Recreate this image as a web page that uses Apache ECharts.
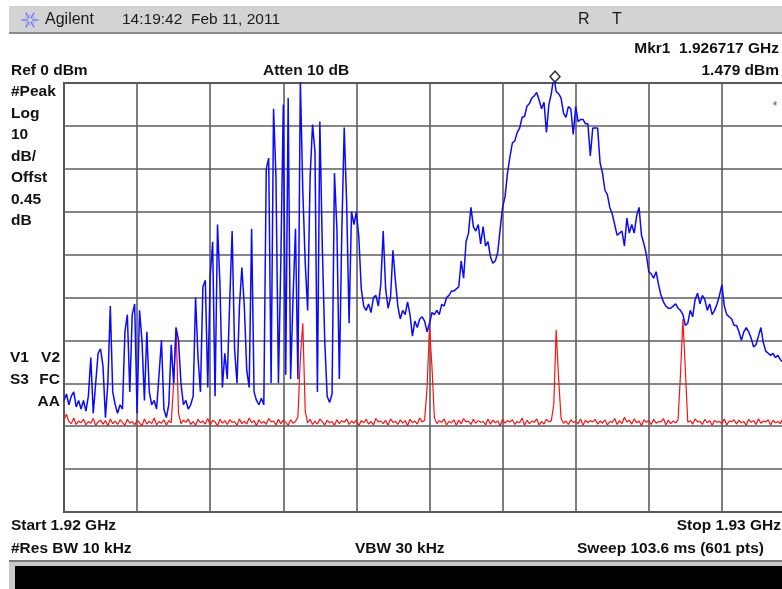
<!DOCTYPE html>
<html>
<head>
<meta charset="utf-8">
<script src="https://cdn.jsdelivr.net/npm/echarts@6/dist/echarts.min.js"></script>
<style>
  html, body { margin: 0; padding: 0; background: #ffffff; overflow: hidden; }
  #chart { width: 800px; height: 589px; }
</style>
</head>
<body>
<div id="chart"></div>
<script>
// Sweep settings (MHz) and display scale (dBm)
const startMHz = 1920;
const stopMHz = 1930;
const refLevel = 0;
const dbPerDiv = 10;
const sweepPoints = 301;

// Trace 1 (blue): max-hold of the signal, dBm
const blueTrace = [
  -74,-72.5,-75,-73,-72,-75.5,-74,-76,-74,-76.5,
  -73,-64,-77,-70,-63,-62,-66,-78,-70,-52,
  -72,-75,-77,-75,-76,-58,-54,-72,-54,-51.5,
  -77,-53,-60,-74,-58,-72,-75,-74,-76,-68,
  -60,-76,-78,-75,-61,-70,-57,-60,-70,-75,
  -74,-76,-75,-73,-50,-64,-72,-47.5,-46,-71,
  -45,-37,-73,-33,-47,-71,-63,-69,-51,-34.5,
  -62,-70,-52,-43,-52,-67,-71,-34,-72,-74,
  -75,-73.5,-75,-20,-17.5,-70,-6,-22,-70,-41,
  -5,-68,-3.5,-69,-50,-34,-69,0.5,-25,-42,
  -53,-22,-9.7,-16,-72,-9,-38,-60,-73,-74.5,
  -72.5,-21,-34,-69,-35,-10.4,-28,-56,-30,-33,
  -30,-36,-48,-52,-53,-51.5,-53.5,-50,-49.5,-52,
  -47,-34.5,-48,-52.5,-50,-39,-46,-52,-55,-53,
  -54,-51,-54,-59,-55.5,-57,-55,-54.5,-55.5,-58,
  -56,-53.5,-54,-53,-54,-51.6,-52,-50,-49.5,-48.5,
  -48.5,-48,-47.5,-41.5,-45.5,-37,-35,-29,-33.5,-34.5,
  -33,-37.5,-33.5,-38,-37,-40.5,-42,-41.5,-39.5,-34,
  -29,-26.5,-21,-17.2,-14,-13.5,-11.5,-10.5,-8,-7.8,
  -5.4,-4.8,-3.5,-3,-2.2,-4,-6,-4.5,-11.5,-5,
  -2.5,1.479,-2,-2.5,-3.5,-7,-8,-5.5,-6,-12,
  -5.5,-9,-8.5,-8.5,-9.5,-9.5,-17,-10.5,-10.5,-10.5,
  -18.6,-21,-25,-26,-29,-30.5,-33,-35.5,-35,-34.5,
  -38,-31.5,-35,-33,-35,-31,-29,-35.5,-37.5,-40,
  -44,-44.5,-45.5,-44,-47,-49.5,-51,-52,-52.5,-52.5,
  -52,-51.5,-52.5,-53,-54,-56.5,-56,-53,-54.5,-50.5,
  -49,-51.5,-49.5,-50.5,-53,-51.5,-54,-53,-51.5,-49.5,
  -47,-52,-54,-54.5,-55,-56.5,-56.5,-58,-60,-58,
  -57,-58,-59.5,-61.5,-61,-59,-57,-60.5,-62.5,-63,
  -63.5,-63,-64,-63.5,-64.5,-65,-64.5,-65.5,-65,-66,
  -65.5
];

// Trace 2 (red): noise floor with the carrier lines, dBm
const redTrace = [
  -78.5,-77.2,-78.9,-79.4,-78.1,-79.6,-78.8,-79.2,-78.4,-79.7,
  -78.9,-79.3,-78.2,-79.8,-79.0,-78.6,-79.5,-78.7,-79.9,-78.3,
  -79.4,-78.8,-79.6,-78.5,-79.1,-79.8,-78.4,-79.3,-78.9,-79.7,
  -78.6,-79.2,-79.9,-78.3,-79.5,-78.8,-79.4,-78.1,-79.7,-78.9,
  -79.3,-78.5,-79.8,-78.7,-79.2,-70.0,-57.0,-77.0,-79.4,-78.6,
  -79.1,-78.3,-79.6,-78.9,-79.8,-78.4,-79.2,-78.8,-79.5,-78.2,
  -79.7,-78.6,-79.0,-79.9,-78.4,-79.3,-78.7,-79.6,-78.5,-79.1,
  -78.9,-79.8,-78.3,-79.4,-78.8,-79.5,-78.1,-79.2,-78.7,-79.9,
  -78.5,-79.3,-78.9,-79.6,-78.2,-79.0,-78.8,-79.7,-78.4,-79.4,
  -78.6,-79.1,-79.8,-78.5,-79.3,-78.9,-77.8,-64.0,-56.0,-76.5,
  -79.2,-78.4,-79.6,-78.8,-79.5,-78.3,-79.0,-79.7,-78.6,-79.2,
  -78.9,-79.8,-78.5,-79.4,-78.7,-79.1,-78.3,-79.6,-78.8,-79.3,
  -78.5,-79.9,-78.7,-79.2,-78.4,-79.5,-78.9,-79.7,-78.2,-79.0,
  -78.8,-79.4,-78.6,-79.8,-78.3,-79.1,-78.9,-79.6,-78.5,-79.3,
  -78.7,-79.9,-78.4,-79.2,-78.8,-79.5,-78.1,-79.0,-78.6,-71.0,
  -57.0,-66.0,-78.0,-79.4,-78.7,-79.1,-78.3,-79.7,-78.9,-79.2,
  -78.5,-79.8,-78.6,-79.4,-78.2,-79.0,-78.8,-79.6,-78.4,-79.3,
  -78.7,-79.1,-78.9,-79.7,-78.3,-79.5,-78.6,-79.2,-78.8,-79.9,
  -78.4,-79.3,-78.7,-79.0,-78.5,-79.6,-78.9,-79.2,-78.1,-79.8,
  -78.6,-79.4,-78.8,-79.1,-78.3,-79.7,-78.9,-79.5,-78.4,-79.0,
  -78.7,-75.0,-57.5,-69.0,-78.2,-79.3,-78.8,-79.6,-78.5,-79.1,
  -78.9,-79.4,-78.3,-79.8,-78.6,-79.2,-78.7,-79.0,-78.4,-79.5,
  -78.8,-79.3,-78.5,-79.7,-78.9,-79.1,-78.2,-79.6,-78.7,-79.4,
  -77.9,-79.0,-78.6,-79.5,-78.3,-79.2,-78.8,-79.9,-78.5,-79.1,
  -78.7,-79.6,-78.4,-79.3,-78.9,-79.0,-78.2,-79.7,-78.6,-79.4,
  -78.8,-79.2,-78.5,-68.0,-55.0,-67.0,-79.1,-78.7,-79.5,-78.3,
  -79.0,-78.9,-79.6,-78.4,-79.2,-78.7,-79.8,-78.6,-79.1,-78.9,
  -79.4,-78.3,-79.7,-78.8,-79.0,-78.5,-79.5,-78.6,-79.2,-78.9,
  -79.8,-78.4,-79.1,-78.7,-79.6,-78.3,-79.3,-78.8,-79.0,-78.5,
  -79.7,-78.6,-79.2,-78.9,-79.4,-78.2,-79.1,-78.7,-79.5,-78.8,
  -79.3
];

// Marker 1 readout
const markerFreqGHz = 1.926717;
const markerLevel = 1.479;

// Annotation strings
const headerTime = '14:19:42  Feb 11, 2011';
const leftStatus = ['#Peak', 'Log', '10', 'dB/', 'Offst', '0.45', 'dB'];

const step = (stopMHz - startMHz) / (sweepPoints - 1);
const pairs = arr => arr.map((v, i) => [startMHz + i * step, v]);

const FONT = '"Liberation Sans", Arial, "DejaVu Sans", sans-serif';
const bold = s => 'bold ' + s + 'px ' + FONT;
const txt = (text, x, y, opt) => Object.assign({
  type: 'text', silent: true, z: 100,
  style: Object.assign({ text, x, y, fill: '#111', font: bold(15.5),
    textAlign: 'left', textVerticalAlign: 'middle' }, opt || {})
});

const graphics = [];
// title strip
graphics.push({ type: 'rect', silent: true, z: 1, shape: { x: 9, y: 6, width: 791, height: 27 },
  style: { fill: '#d3d3d3' } });
graphics.push({ type: 'rect', silent: true, z: 2, shape: { x: 9, y: 32, width: 791, height: 2 },
  style: { fill: '#8a8a8a' } });
// Agilent spark
for (let k = 0; k < 12; k++) {
  const a = k * Math.PI / 6;
  const r1 = 2, r2 = k % 2 ? 6 : 8.5;
  graphics.push({ type: 'line', silent: true, z: 3,
    shape: { x1: 30 + r1 * Math.cos(a), y1: 20 + r1 * Math.sin(a), x2: 30 + r2 * Math.cos(a), y2: 20 + r2 * Math.sin(a) },
    style: { stroke: k % 2 ? '#a9a9ff' : '#6b6bf5', lineWidth: 1.2 } });
}
graphics.push(txt('Agilent', 45, 20, { font: '16px ' + FONT, fill: '#1a1a1a' }));
graphics.push(txt(headerTime, 122, 20, { font: '15.5px ' + FONT, fill: '#1a1a1a' }));
graphics.push(txt('R', 578, 20, { font: '16px ' + FONT, fill: '#1a1a1a' }));
graphics.push(txt('T', 612, 20, { font: '16px ' + FONT, fill: '#1a1a1a' }));

// settings line
graphics.push(txt('Mkr1  ' + markerFreqGHz.toFixed(6) + ' GHz', 779, 49, { textAlign: 'right' }));
graphics.push(txt('Ref 0 dBm', 11, 71));
graphics.push(txt('Atten 10 dB', 263, 71));
graphics.push(txt(markerLevel.toFixed(3) + ' dBm', 779, 71, { textAlign: 'right' }));
leftStatus.forEach((s, k) => graphics.push(txt(s, 11, 92 + k * 21.5)));
graphics.push(txt('V1', 10, 358));
graphics.push(txt('V2', 60, 358, { textAlign: 'right' }));
graphics.push(txt('S3', 10, 380));
graphics.push(txt('FC', 60, 380, { textAlign: 'right' }));
graphics.push(txt('AA', 60, 402, { textAlign: 'right' }));
graphics.push(txt('*', 775, 107, { font: '12px ' + FONT, fill: '#555', textAlign: 'center' }));

// footer
graphics.push(txt('Start 1.92 GHz', 11, 526));
graphics.push(txt('Stop 1.93 GHz', 781, 526, { textAlign: 'right' }));
graphics.push(txt('#Res BW 10 kHz', 11, 549));
graphics.push(txt('VBW 30 kHz', 355, 549));
graphics.push(txt('Sweep 103.6 ms (601 pts)', 577, 549));
graphics.push({ type: 'rect', silent: true, z: 1, shape: { x: 9, y: 560, width: 791, height: 29 },
  style: { fill: '#c9c9c9' } });
graphics.push({ type: 'rect', silent: true, z: 2, shape: { x: 9, y: 560, width: 791, height: 2 },
  style: { fill: '#7a7a7a' } });
graphics.push({ type: 'rect', silent: true, z: 3, shape: { x: 15, y: 566, width: 785, height: 23 },
  style: { fill: '#000000' } });

const chart = echarts.init(document.getElementById('chart'), null, { renderer: 'canvas' });
chart.setOption({
  animation: false,
  backgroundColor: '#ffffff',
  grid: { left: 64, top: 83, width: 731, height: 429, show: true,
    borderColor: '#484848', borderWidth: 2, backgroundColor: 'transparent' },
  xAxis: {
    type: 'value', min: startMHz, max: stopMHz, interval: 1,
    axisLine: { show: false }, axisTick: { show: false }, axisLabel: { show: false },
    splitLine: { show: true, lineStyle: { color: '#5e5e5e', width: 1.6 } }
  },
  yAxis: {
    type: 'value', min: refLevel - 10 * dbPerDiv, max: refLevel, interval: dbPerDiv,
    axisLine: { show: false }, axisTick: { show: false }, axisLabel: { show: false },
    splitLine: { show: true, lineStyle: { color: '#5e5e5e', width: 1.6 } }
  },
  series: [
    { name: 'Trace 2', type: 'line', data: pairs(redTrace), showSymbol: false, symbol: 'none',
      lineStyle: { color: '#ff1010', width: 1.2 }, z: 3 },
    { name: 'Trace 1', type: 'line', data: pairs(blueTrace), showSymbol: false, symbol: 'none',
      lineStyle: { color: '#0a0aff', width: 1.5 }, z: 4 },
    { name: 'Mkr1', type: 'scatter', clip: false, z: 6,
      data: [[markerFreqGHz * 1000, markerLevel]],
      symbol: 'diamond', symbolSize: [10, 11],
      itemStyle: { color: '#ffffff', borderColor: '#000000', borderWidth: 1.5 } }
  ],
  graphic: { elements: graphics }
});
</script>
</body>
</html>
